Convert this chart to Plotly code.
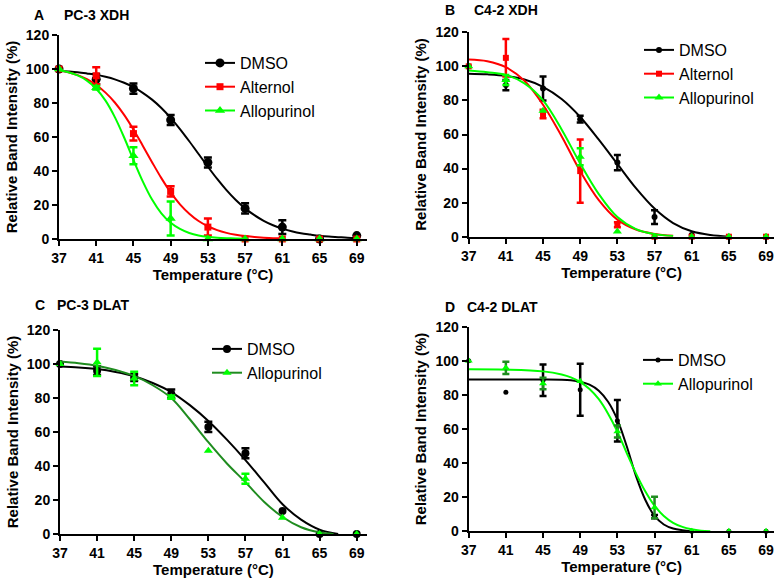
import plotly.graph_objects as go

W, H = 780, 578

# ---------------- data ----------------
TEMPS = [37, 41, 45, 49, 53, 57, 61, 65, 69]
Y_TICKS = [0, 20, 40, 60, 80, 100, 120]

# Panel A: PC-3 XDH
A_DMSO = [100, 94, 88.5, 70, 45, 18, 7, 0, 2]
A_DMSO_ERR = [0, 3, 3, 3, 3, 3, 4, 0, 0]
A_ALTERNOL = [100, 96, 62, 28, 7, 0, 0, 0, 0]
A_ALTERNOL_ERR = [0, 5, 4, 3, 5, 0, 0, 0, 0]
A_ALLO = [100, 89, 49, 12, 0, 0, 0, 0, 0]
A_ALLO_ERR = [0, 1, 5, 10, 0, 0, 0, 0, 0]
A_DMSO_FIT_T = list(range(37, 70))
A_DMSO_FIT = [99.0, 98.6, 98.1, 97.4, 96.6, 95.4, 93.9, 91.9, 89.3, 86.0, 82.0, 77.1, 71.3,
              64.7, 57.5, 50.0, 42.5, 35.3, 28.7, 22.9, 18.0, 14.0, 10.7, 8.1, 6.1, 4.6,
              3.4, 2.6, 1.9, 1.4, 1.1, 0.8, 0.6]
A_ALTERNOL_FIT_T = list(range(37, 62))
A_ALTERNOL_FIT = [99.3, 98.1, 96.4, 94.0, 90.6, 86.1, 80.3, 73.0, 64.4, 54.9, 45.2, 35.8, 27.4,
                  20.4, 14.9, 10.6, 7.5, 5.2, 3.6, 2.5, 1.7, 1.2, 0.8, 0.5, 0.4]
A_ALLO_FIT_T = list(range(37, 58))
A_ALLO_FIT = [99.3, 98.1, 96.2, 93.2, 88.4, 81.4, 71.7, 59.7, 46.5, 33.9, 23.2, 15.1, 9.5,
              5.9, 3.5, 2.1, 1.3, 0.8, 0.5, 0.3, 0.2]

# Panel B: C4-2 XDH
B_DMSO = [100, 89, 87, 69, 43.5, 11.5, 1, 0, 0]
B_DMSO_ERR = [0, 3, 7, 2, 4.5, 4, 0, 0, 0]
B_ALTERNOL = [100, 105, 72, 38.5, 7, 0, 0, 0, 0]
B_ALTERNOL_ERR = [0, 11, 2.5, 18.5, 1.5, 0, 0, 0, 0]
B_ALLO = [100, 92, 74, 47, 3, 0, 0, 0, 0]
B_ALLO_ERR = [0, 3, 0, 5, 0, 0, 0, 0, 0]
B_DMSO_FIT_T = [37, 39, 41, 43, 45, 47, 49, 51, 53, 55, 57, 59, 61, 63, 65]
B_DMSO_FIT = [95.7, 95.3, 94.4, 92.3, 88.0, 80.8, 70.3, 57.0, 42.7, 28.5, 16.5, 8.0, 3.2, 1.0, 0.0]
B_ALTERNOL_FIT_T = [37, 39, 41, 43, 45, 47, 49, 51, 53, 55, 57, 59]
B_ALTERNOL_FIT = [104, 103, 99.5, 91.5, 77.5, 59, 38.5, 21.5, 10, 4.2, 1.6, 0.5]
B_ALLO_FIT_T = [37, 39, 41, 43, 45, 47, 49, 51, 53, 55, 57, 59]
B_ALLO_FIT = [97.5, 96.5, 95, 90, 80, 63, 43, 25, 11.5, 4.5, 1.5, 0.4]

# Panel C: PC-3 DLAT
C_DMSO = [100, 96, 92, 82.5, 63, 47.5, 13.5, 0, 0]
C_DMSO_ERR = [0, 2.5, 2, 2.5, 3, 3, 0, 0, 0]
C_ALLO = [100, 101, 91.5, 80.5, 49, 32.5, 9.5, 0, 0]
C_ALLO_ERR = [0, 8, 4, 1, 0, 3, 0, 0, 0]
C_DMSO_FIT_T = [37, 39, 41, 43, 45, 47, 49, 51, 53, 55, 57, 59, 61, 63, 65, 67]
C_DMSO_FIT = [98.5, 98, 97, 95.3, 92.8, 88.8, 83.5, 75.8, 66.5, 55.5, 43.5, 30.5, 17.5, 8.5, 2.6, 0]
C_ALLO_FIT_T = [37, 39, 41, 43, 45, 47, 49, 51, 53, 55, 57, 59, 61, 63, 65, 66.5]
C_ALLO_FIT = [101.5, 100.5, 99, 96.5, 93, 87.5, 80, 67.5, 54, 41.5, 30.5, 19, 10, 4, 1, 0]

# Panel D: C4-2 DLAT
D_DMSO = [100, 81.5, 88.6, 83, 64.8, 8.6, 0, 0, 0]
D_DMSO_ERR = [0, 0, 9.3, 15.2, 12.2, 1, 0, 0, 0]
D_ALLO = [100, 95.9, 86.7, 88, 58.5, 14, 0, 0, 0]
D_ALLO_ERR = [0, 3.6, 3.4, 0, 3.5, 6.3, 0, 0, 0]
D_DMSO_FIT_T = [37, 41, 45, 47, 48, 49, 50, 51, 52, 53, 54, 55, 56, 57, 58, 59, 60, 61]
D_DMSO_FIT = [89, 89, 89, 88.9, 88.6, 87.8, 86, 82.5, 76, 65.5, 50, 32.5, 18.5, 9, 4, 1.6, 0.6, 0.1]
D_ALLO_FIT_T = [37, 41, 45, 47, 48, 49, 50, 51, 52, 53, 54, 55, 56, 57, 58, 59, 60, 61, 62, 63]
D_ALLO_FIT = [95, 94.8, 93.8, 92, 90.3, 87.5, 83.5, 77.5, 69, 58.5, 46, 34, 23.5, 15, 9, 5, 2.6, 1.2, 0.4, 0]

# ---------------- styling ----------------
BLACK = "#000000"
RED = "#ff0000"
GREEN = "#00ff00"
DKGREEN = "#1f8c1f"
FONT = "Liberation Sans, Arial, sans-serif"

fig = go.Figure()


def add_series(xa, ya, legend, name, vals, errs, fit_t, fit_v,
               color, line_color, err_color, symbol, msize, capw):
    # fitted curve
    fig.add_trace(go.Scatter(
        x=fit_t, y=fit_v, mode="lines", line=dict(color=line_color, width=2, shape="spline"),
        xaxis=xa, yaxis=ya, showlegend=False, hoverinfo="skip"))
    # error bars (only points that have one)
    ex = [t for t, e in zip(TEMPS, errs) if e > 0]
    ey = [v for v, e in zip(vals, errs) if e > 0]
    ee = [e for e in errs if e > 0]
    if ex:
        fig.add_trace(go.Scatter(
            x=ex, y=ey, mode="markers", marker=dict(size=msize, color=color, opacity=0),
            error_y=dict(type="data", array=ee, visible=True, color=err_color,
                         thickness=2.5, width=capw),
            xaxis=xa, yaxis=ya, showlegend=False, hoverinfo="skip", cliponaxis=False))
    # data points
    fig.add_trace(go.Scatter(
        x=TEMPS, y=vals, mode="markers",
        marker=dict(symbol=symbol, size=msize, color=color, line=dict(width=0)),
        xaxis=xa, yaxis=ya, showlegend=False, cliponaxis=False, name=name))
    # legend entry
    fig.add_trace(go.Scatter(
        x=[None], y=[None], mode="lines+markers", name=name,
        line=dict(color=line_color, width=2),
        marker=dict(symbol=symbol, size=msize, color=color),
        xaxis=xa, yaxis=ya, legend=legend, showlegend=True))


# Panel A
add_series("x", "y", "legend", "DMSO", A_DMSO, A_DMSO_ERR, A_DMSO_FIT_T, A_DMSO_FIT,
           BLACK, BLACK, BLACK, "circle", 9, 4)
add_series("x", "y", "legend", "Alternol", A_ALTERNOL, A_ALTERNOL_ERR, A_ALTERNOL_FIT_T, A_ALTERNOL_FIT,
           RED, RED, RED, "square", 7, 4)
add_series("x", "y", "legend", "Allopurinol", A_ALLO, A_ALLO_ERR, A_ALLO_FIT_T, A_ALLO_FIT,
           GREEN, GREEN, GREEN, "triangle-up", 9, 4)
# Panel B
add_series("x2", "y2", "legend2", "DMSO", B_DMSO, B_DMSO_ERR, B_DMSO_FIT_T, B_DMSO_FIT,
           BLACK, BLACK, BLACK, "circle", 6, 3.5)
add_series("x2", "y2", "legend2", "Alternol", B_ALTERNOL, B_ALTERNOL_ERR, B_ALTERNOL_FIT_T, B_ALTERNOL_FIT,
           RED, RED, RED, "square", 6, 3.5)
add_series("x2", "y2", "legend2", "Allopurinol", B_ALLO, B_ALLO_ERR, B_ALLO_FIT_T, B_ALLO_FIT,
           GREEN, GREEN, GREEN, "triangle-up", 8, 3.5)
# Panel C
add_series("x3", "y3", "legend3", "DMSO", C_DMSO, C_DMSO_ERR, C_DMSO_FIT_T, C_DMSO_FIT,
           BLACK, BLACK, BLACK, "circle", 8, 4)
add_series("x3", "y3", "legend3", "Allopurinol", C_ALLO, C_ALLO_ERR, C_ALLO_FIT_T, C_ALLO_FIT,
           GREEN, DKGREEN, GREEN, "triangle-up", 8, 4)
# Panel D
add_series("x4", "y4", "legend4", "DMSO", D_DMSO, D_DMSO_ERR, D_DMSO_FIT_T, D_DMSO_FIT,
           BLACK, BLACK, BLACK, "circle", 5, 3.5)
add_series("x4", "y4", "legend4", "Allopurinol", D_ALLO, D_ALLO_ERR, D_ALLO_FIT_T, D_ALLO_FIT,
           GREEN, GREEN, DKGREEN, "triangle-up", 7, 3.5)


def xdom(a, b):
    return [a / W, b / W]


def ydom(bottom, top):
    return [1 - bottom / H, 1 - top / H]


tickfont = dict(family=FONT, size=14, color="black", weight="bold")
titlefont = dict(family=FONT, size=15, color="black", weight="bold")
common = dict(showline=True, linecolor="black", linewidth=2, ticks="outside", ticklen=5,
              tickwidth=2, tickcolor="black", showgrid=False, zeroline=False,
              tickfont=tickfont, fixedrange=True, automargin=False)

panels = [
    ("", (59, 367), (239, 35), 70.1),
    ("2", (468.7, 774.4), (236.7, 32.3), 69.9),
    ("3", (60, 366.9), (534, 330), 70.1),
    ("4", (468.7, 774.4), (531.3, 326.7), 69.9),
]
layout = {}
for suf, (xa, xb), (yb, yt), xmax in panels:
    layout["xaxis" + suf] = dict(
        common, domain=xdom(xa, xb), range=[37, xmax], anchor="y" + suf,
        tickvals=TEMPS, ticktext=[str(t) for t in TEMPS],
        title=dict(text="Temperature (°C)", font=titlefont, standoff=3))
    layout["yaxis" + suf] = dict(
        common, domain=ydom(yb, yt), range=[0, 120], anchor="x" + suf,
        tickvals=Y_TICKS,
        title=dict(text="Relative Band Intensity (%)", font=titlefont, standoff=5))

legfont = dict(family=FONT, size=16, color="black")
for key, lx, ly in [("legend", 200, 46), ("legend2", 639, 33),
                    ("legend3", 207, 332), ("legend4", 638, 343)]:
    layout[key] = dict(x=lx / W, y=1 - ly / H, xanchor="left", yanchor="top",
                       font=legfont, bgcolor="rgba(0,0,0,0)", borderwidth=0,
                       tracegroupgap=0)

annotations = []
for letter, lx, title, tx, ty in [("A", 32, "PC-3 XDH", 62, 15), ("B", 443, "C4-2 XDH", 472, 10),
                                  ("C", 33, "PC-3 DLAT", 55, 305), ("D", 443, "C4-2 DLAT", 465, 307)]:
    for txt, x in [(letter, lx), (title, tx)]:
        annotations.append(dict(text=txt, x=x / W, y=1 - ty / H, xref="paper", yref="paper",
                                xanchor="left", yanchor="middle", showarrow=False,
                                font=dict(family=FONT, size=14, color="black", weight="bold")))

fig.update_layout(width=W, height=H, margin=dict(l=0, r=0, t=0, b=0, autoexpand=False),
                  paper_bgcolor="white", plot_bgcolor="white",
                  annotations=annotations, **layout)

fig.write_html("out.html", config={"displayModeBar": False},
               post_script="document.body.style.margin='0';document.body.style.overflow='hidden';")
